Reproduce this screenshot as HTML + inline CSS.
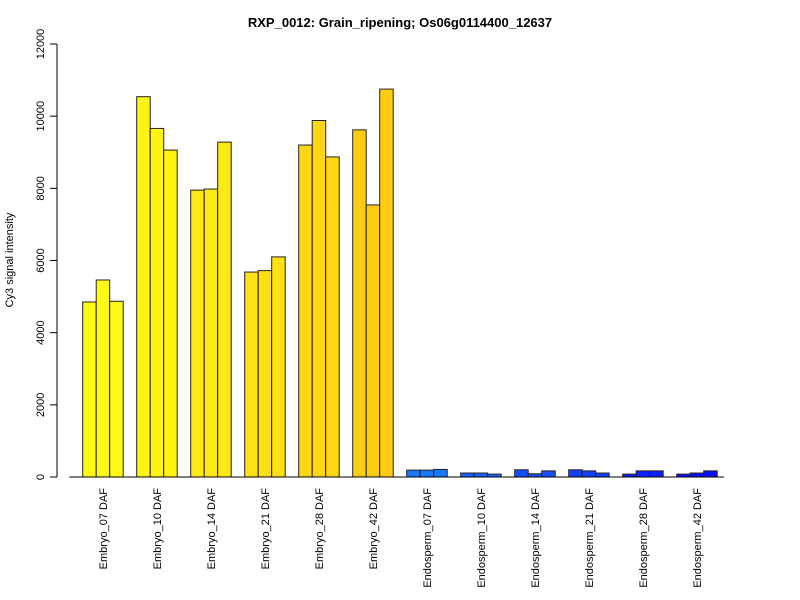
<!DOCTYPE html>
<html><head><meta charset="utf-8"><style>body{margin:0;background:#fff}svg{display:block;font-family:"Liberation Sans",sans-serif}</style></head>
<body>
<svg id="c" width="800" height="600">
<text x="400" y="27" text-anchor="middle" font-size="13" font-weight="bold">RXP_0012: Grain_ripening; Os06g0114400_12637</text>
<text transform="translate(13,260) rotate(-90)" text-anchor="middle" font-size="11">Cy3 signal intensity</text>
</svg>
<script>
const categories=["Embryo_07 DAF","Embryo_10 DAF","Embryo_14 DAF","Embryo_21 DAF","Embryo_28 DAF","Embryo_42 DAF","Endosperm_07 DAF","Endosperm_10 DAF","Endosperm_14 DAF","Endosperm_21 DAF","Endosperm_28 DAF","Endosperm_42 DAF"];
const rep1=[4850,10540,7950,5680,9200,9620,190,110,200,200,80,80];
const rep2=[5460,9660,7980,5720,9880,7540,190,110,90,170,170,110];
const rep3=[4870,9060,9280,6100,8870,10750,210,80,170,110,170,170];
const colors=["#FFFA14","#FFF314","#FFE914","#FFE014","#FFD614","#FFCC14","#1A78FF","#1A62FF","#1450FF","#1440FF","#0A22FF","#0A10FF"];
const yTicks=[0,2000,4000,6000,8000,10000,12000];
const svg=document.getElementById('c');const NS="http://www.w3.org/2000/svg";
const y=v=>477-v*433/12000;const unit=13.5,x0=69.2;
const xb=(g,r)=>x0+unit*(1+g*4+r);
function mk(t,a){const e=document.createElementNS(NS,t);for(const k in a)e.setAttribute(k,a[k]);svg.appendChild(e);return e;}
let ax=mk('line',{x1:57,x2:57,y1:y(0),y2:y(12000),stroke:'#000'});


yTicks.forEach(v=>{
 const tk=mk('line',{x1:50,x2:57,y1:y(v),y2:y(v),stroke:'#000'});
 
 
 const t=mk('text',{transform:`translate(44,${y(v)}) rotate(-90)`,'text-anchor':'middle','font-size':11});
 t.textContent=v;
 
 
});
const reps=[rep1,rep2,rep3];
categories.forEach((c,g)=>{
 reps.forEach((arr,r)=>{
  const b=mk('rect',{x:xb(g,r),y:y(arr[g]),width:unit,height:y(0)-y(arr[g]),fill:colors[g],stroke:'#222','stroke-width':1});
  
  
 });
 const cx=xb(g,1.5);
 const t=mk('text',{transform:`translate(${cx+4},488) rotate(-90)`,'text-anchor':'end','font-size':11});
 t.textContent=c;
 
 
});
const base=mk('line',{x1:x0,x2:xb(11,3)+unit*0.5,y1:y(0),y2:y(0),stroke:'#000'});


</script>
</body></html>
